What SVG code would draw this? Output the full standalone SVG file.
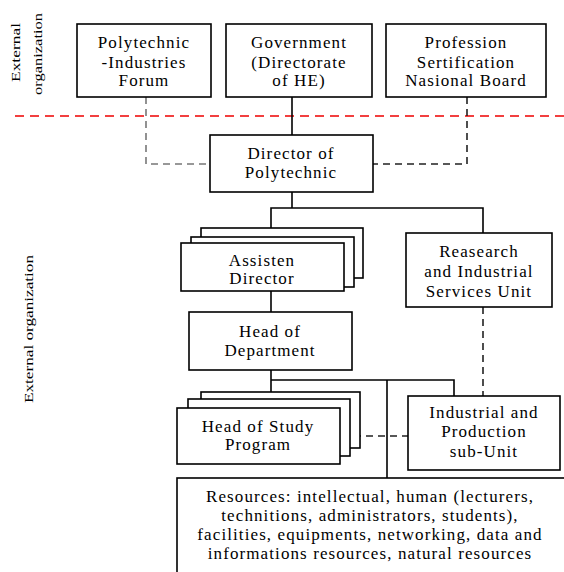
<svg xmlns="http://www.w3.org/2000/svg" width="564" height="572" viewBox="0 0 564 572">
<style>
.box{fill:#fff;stroke:#000;stroke-width:1.6}
.t{font-family:'Liberation Serif','Times New Roman','DejaVu Serif',serif;font-size:17px;letter-spacing:1.1px;fill:#000;text-anchor:middle}
.side{font-family:'Liberation Serif','Times New Roman','DejaVu Serif',serif;font-size:13px;fill:#000}
.ln{fill:none;stroke:#000;stroke-width:1.6}
.dg{fill:none;stroke:#777;stroke-width:1.6;stroke-dasharray:7 5}
.dk{fill:none;stroke:#222;stroke-width:1.6;stroke-dasharray:7 5}
</style>
<rect width="564" height="572" fill="#fff"/>
<g id="labels">
<text class="side" transform="translate(20,82) rotate(-90)" textLength="59" lengthAdjust="spacingAndGlyphs">External</text>
<text class="side" transform="translate(42,95) rotate(-90)" textLength="82" lengthAdjust="spacingAndGlyphs">organization</text>
<text class="side" transform="translate(33,403) rotate(-90)" textLength="148" lengthAdjust="spacingAndGlyphs">External organization</text>
</g>
<g id="connectors">
<line x1="15" y1="116" x2="564" y2="116" stroke="#e00" stroke-width="1.6" stroke-dasharray="9 6"/>
<polyline class="dg" points="146,97 146,164 209,164"/>
<polyline class="dk" points="467,97 467,164 373,164"/>
<line class="ln" x1="292" y1="97" x2="292" y2="135"/>
<line class="ln" x1="292" y1="192" x2="292" y2="208"/>
<polyline class="ln" points="271,228 271,208 483,208 483,233"/>
<line class="ln" x1="271" y1="291" x2="271" y2="312"/>
<polyline class="ln" points="271,370 271,392"/>
<polyline class="ln" points="271,380 454,380 454,396"/>
<line class="ln" x1="387" y1="380" x2="387" y2="478"/>
<line class="dk" x1="483" y1="307" x2="483" y2="396"/>
<line class="dk" x1="342" y1="436" x2="408" y2="436"/>
</g>
<g id="forum">
<rect class="box" x="77" y="24" width="134" height="73"/>
<text class="t" x="144" y="48">Polytechnic</text>
<text class="t" x="144" y="68">-Industries</text>
<text class="t" x="144" y="86">Forum</text>
</g>
<g id="government">
<rect class="box" x="226" y="24" width="146" height="73"/>
<text class="t" x="299" y="48">Government</text>
<text class="t" x="299" y="68">(Directorate</text>
<text class="t" x="299" y="86">of HE)</text>
</g>
<g id="profession">
<rect class="box" x="386" y="24" width="160" height="73"/>
<text class="t" x="466" y="48">Profession</text>
<text class="t" x="466" y="68">Sertification</text>
<text class="t" x="466" y="86">Nasional  Board</text>
</g>
<g id="director">
<rect class="box" x="210" y="135" width="163" height="57"/>
<text class="t" x="291" y="159">Director of</text>
<text class="t" x="291" y="178">Polytechnic</text>
</g>
<g id="assisten">
<rect class="box" x="201" y="228" width="162" height="50"/>
<rect class="box" x="191" y="237" width="163" height="50"/>
<rect class="box" x="181" y="243" width="163" height="48"/>
<text class="t" x="262" y="266">Assisten</text>
<text class="t" x="262" y="284">Director</text>
</g>
<g id="research">
<rect class="box" x="406" y="233" width="146" height="74"/>
<text class="t" x="479" y="257">Reasearch</text>
<text class="t" x="479" y="277">and Industrial</text>
<text class="t" x="479" y="297">Services  Unit</text>
</g>
<g id="head-dept">
<rect class="box" x="189" y="312" width="163" height="58"/>
<text class="t" x="270" y="337">Head of</text>
<text class="t" x="270" y="356">Department</text>
</g>
<g id="head-study">
<rect class="box" x="201" y="392" width="159" height="56"/>
<rect class="box" x="188" y="399" width="162" height="57"/>
<rect class="box" x="177" y="408" width="163" height="56"/>
<text class="t" x="258" y="432">Head of Study</text>
<text class="t" x="258" y="450">Program</text>
</g>
<g id="industrial">
<rect class="box" x="408" y="396" width="152" height="74"/>
<text class="t" x="484" y="418">Industrial and</text>
<text class="t" x="484" y="437">Production</text>
<text class="t" x="484" y="457">sub-Unit</text>
</g>
<g id="resources">
<rect class="box" x="177" y="478" width="390" height="100"/>
<text class="t" x="370" y="502">Resources: intellectual,  human (lecturers,</text>
<text class="t" x="370" y="521">technitions, administrators,  students),</text>
<text class="t" x="370" y="540">facilities, equipments, networking,  data and</text>
<text class="t" x="370" y="559">informations resources,  natural resources</text>
</g>
</svg>
